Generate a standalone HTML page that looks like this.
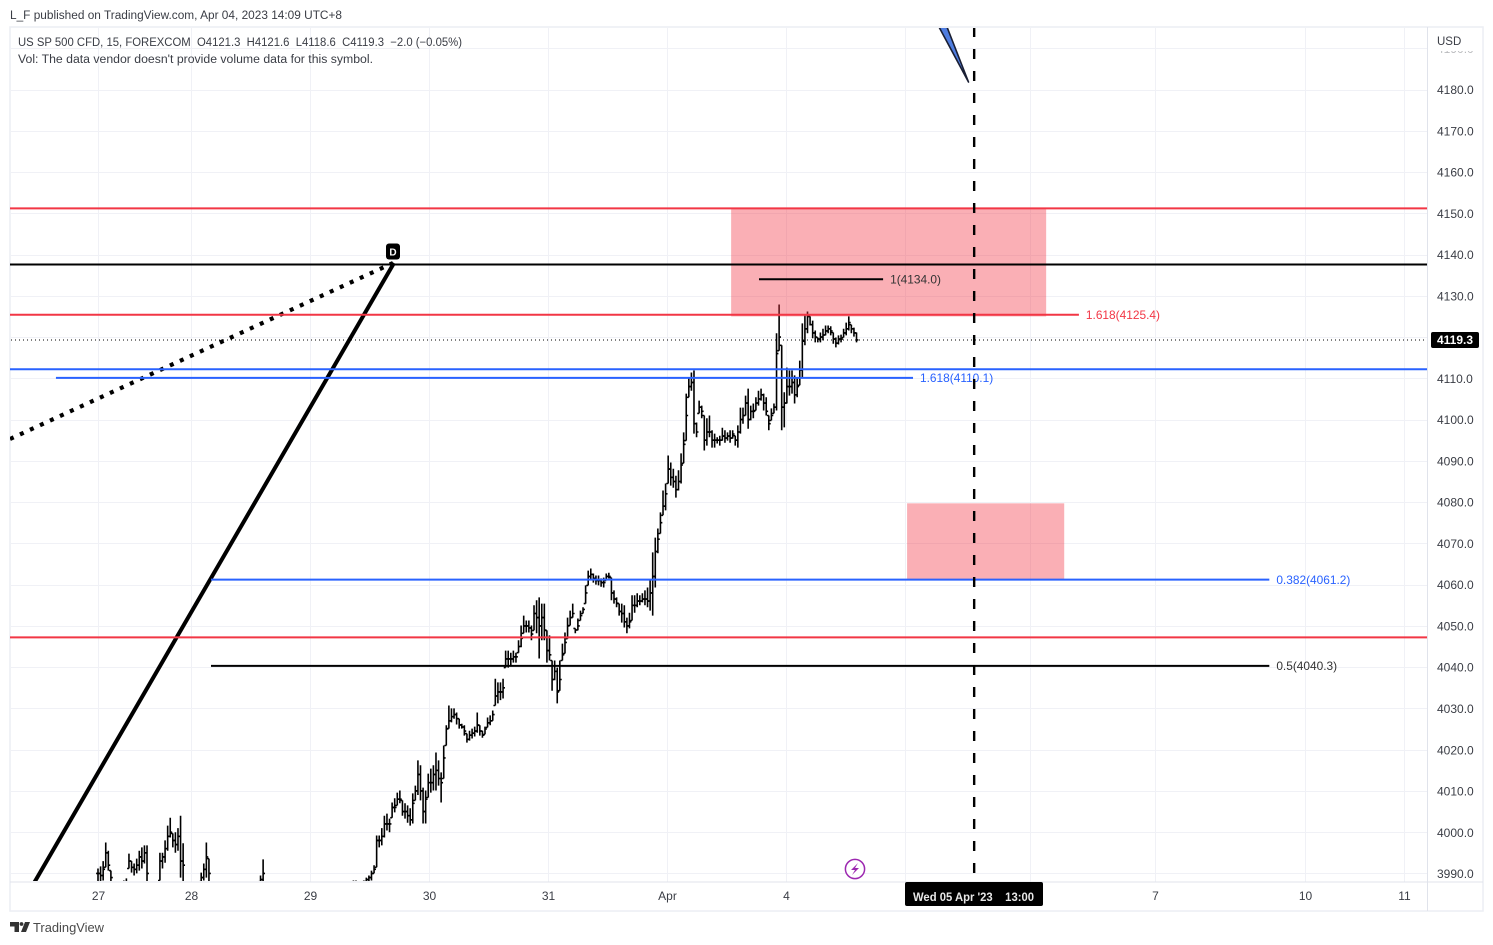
<!DOCTYPE html>
<html lang="en">
<head>
<meta charset="utf-8">
<title>US SP 500 CFD chart</title>
<style>
html,body{margin:0;padding:0;background:#fff;width:1493px;height:945px;overflow:hidden}
svg{display:block;font-family:"Liberation Sans",sans-serif}
</style>
</head>
<body>
<svg id="chart" width="1493" height="945" viewBox="0 0 1493 945" xmlns="http://www.w3.org/2000/svg">
  <defs>
    <clipPath id="pane-clip"><rect x="10" y="28" width="1417" height="853"/></clipPath>
    <clipPath id="top-tick-clip"><rect x="1430" y="51" width="50" height="10"/></clipPath>
  </defs>
  <text x="10" y="19" font-size="11.5" fill="#3a3d45" textLength="332" lengthAdjust="spacingAndGlyphs">L_F published on TradingView.com, Apr 04, 2023 14:09 UTC+8</text>
  <rect x="10" y="27" width="1473" height="884" fill="#fff" stroke="#eceef4" stroke-width="1.5"/>
  <g id="grid"></g>
  <g id="bars" clip-path="url(#pane-clip)"></g>
  <g id="drawings" clip-path="url(#pane-clip)">
    <polygon points="939,27 947,27 968.5,82" fill="#4f7de0" stroke="#1a1f33" stroke-width="1.6" stroke-linejoin="round"/>
    <line x1="10" y1="439" x2="393" y2="263" stroke="#000" stroke-width="4.2" stroke-dasharray="4 7"/>
    <line x1="34" y1="883" x2="394" y2="263" stroke="#000" stroke-width="4"/>
  </g>
  <rect x="386" y="243.5" width="14" height="16" rx="3" fill="#000"/>
  <text x="393" y="255.5" font-size="10" font-weight="bold" fill="#fff" text-anchor="middle">D</text>
  <text x="18" y="46" font-size="11.5" fill="#3a3d45" textLength="444" lengthAdjust="spacingAndGlyphs" xml:space="preserve">US SP 500 CFD, 15, FOREXCOM  O4121.3  H4121.6  L4118.6  C4119.3  −2.0 (−0.05%)</text>
  <text x="18" y="63" font-size="11.5" fill="#3a3d45" textLength="355" lengthAdjust="spacingAndGlyphs">Vol: The data vendor doesn't provide volume data for this symbol.</text>
  <line x1="1427.5" y1="27" x2="1427.5" y2="911" stroke="#e0e3eb" stroke-width="1"/>
  <line x1="10" y1="882" x2="1483" y2="882" stroke="#e0e3eb" stroke-width="1"/>
  <g id="price-axis"></g>
  <g id="time-axis"></g>
  <text x="1437" y="45" font-size="11.5" fill="#3a3d45">USD</text>
  <g>
    <circle cx="855" cy="869" r="9.6" fill="#fff" stroke="#9c27b0" stroke-width="1.5"/>
    <path d="M858 863 L851 870 L855 870 L852 875 L859 868 L855 868 Z" fill="#9c27b0"/>
  </g>
  <rect x="905" y="882" width="138" height="24" rx="2" fill="#000"/>
  <text x="913" y="901" font-size="12" font-weight="bold" fill="#e8e8e8" xml:space="preserve" textLength="121" lengthAdjust="spacingAndGlyphs">Wed 05 Apr '23    13:00</text>
  <g>
    <path d="M10 922 H19 V932 H14.5 V926.5 H10 Z" fill="#333"/>
    <circle cx="21.5" cy="924" r="1.9" fill="#333"/>
    <path d="M25 922 H30 L26 932 H21 Z" fill="#333"/>
  </g>
  <text x="33" y="932" font-size="12.5" fill="#4a4a4a" textLength="71" lengthAdjust="spacingAndGlyphs">TradingView</text>
</svg>
<script>
// ---- chart data ----
const priceTicks = [4190,4180,4170,4160,4150,4140,4130,4110,4100,4090,4080,4070,4060,4050,4040,4030,4020,4010,4000,3990];
const gridOnlyPrices = [4120];
const timeTickLabels = ["27","28","29","30","31","Apr","4","5","6","7","10","11"];
const timeTickBars = [0,36,82.2,128.3,174.4,220.5,266.6,312.8,361.2,409.6,467.8,506.2];
const hiddenTimeLabels = ["5","6"];
const lastPrice = 4119.3;
const zonePrices = [[4151,4125],[4079.7,4061.2]];
const zoneBars = [[245.4,367.5],[313.6,374.5]];
const levelNames = ["red-upper","black-d","red-fib-1618","blue-upper","blue-fib-1618","black-fib-1","blue-fib-0382","red-lower","black-fib-05"];
const levelPrices = [4151.2,4137.6,4125.4,4112.2,4110.1,4134.0,4061.2,4047.2,4040.3];
const levelStartBars = [-34.2,-34.2,-34.2,-34.2,-16.3,256.2,43.8,-34.2,43.8];
const levelEndBars = [515.4,515.4,380.2,515.4,315.9,304.3,454,515.4,454];
const levelColors = ["#f23645","#000000","#f23645","#2962ff","#2962ff","#000000","#2962ff","#f23645","#000000"];
const levelCaptions = ["","","1.618(4125.4)","","1.618(4110.1)","1(4134.0)","0.382(4061.2)","","0.5(4040.3)"];
const dashedMarkerBar = 339.6;

const barHighs = [
3991.2,3991.7,3993,3997.5,3995.5,3990.7,3986,3986,3986,3986,
3988.3,3988.8,3994.8,3993,3992.4,3993.6,3995.5,3996.3,3996.8,3996.8,
3986,3986,3986,3986,3995,3995,3998,4001.6,4003.5,3999.7,
4000,4001,4004,3997.3,3986,3986,3986,3986,3986,3986,
3990.2,3992.4,3997.5,3993.6,3986,3986,3986,3986,3986,3986,
3986,3986,3986,3986,3986,3986,3986,3986,3986,3986,
3986,3986,3986,3989.5,3993.4,3986,3986,3986,3986,3986,
3986,3986,3986,3986,3986,3986,3986,3986,3986,3986,
3986,3986,3986,3986,3986,3986,3986,3986,3986,3986,
3986,3986,3986,3986,3986,3986,3986,3986,3987.8,3988.3,
3988.3,3987.8,3987.8,3988.3,3989,3989.5,3990.7,3992,3999.2,3999.2,
4001,4004,4004.5,4003.3,4007.2,4008.2,4009.6,4010.1,4007.7,4007,
4006.5,4005.8,4009.4,4011.3,4017.4,4016.2,4010.8,4010.1,4014.2,4015.4,
4016.2,4019.3,4017.4,4014.5,4021,4025.9,4030.7,4030,4030,4029,
4027.5,4026.3,4025.9,4023.9,4024.6,4025.1,4025.6,4029,4025.9,4024.6,
4025.6,4027.8,4028.3,4029.5,4037.2,4036.3,4036.3,4037.2,4044,4044,
4043.5,4044,4043.5,4046.5,4050.1,4052.5,4051.3,4051.3,4050.1,4055,
4056.2,4056.9,4055.4,4055.4,4048.9,4047.7,4041.6,4041.6,4039.9,4041.6,
4045.7,4048.4,4052,4053.7,4055.4,4049.4,4051.8,4053.7,4054.5,4059.8,
4063.4,4063.9,4062.7,4062.2,4062.2,4061.5,4061.7,4062.7,4062.9,4061.7,
4058.6,4056.9,4055.4,4055.4,4055,4052,4053.2,4057.4,4057.4,4057.9,
4057.4,4057.9,4058.6,4059.3,4061,4067.8,4071.4,4073.6,4077.5,4082.8,
4084.5,4091.3,4089.6,4088.1,4086.4,4087.7,4091.8,4096.9,4106.3,4110.2,
4111.4,4111.9,4099.3,4104.6,4103.4,4101,4100.3,4101,4097.4,4096.6,
4095.7,4096.1,4098,4097.4,4096.9,4097.4,4097.4,4096.1,4098.6,4102.9,
4102.9,4105.8,4107.5,4103.4,4103.9,4105.4,4107,4107.5,4106.3,4105.4,
4101,4102.7,4103.9,4120.9,4127.9,4118,4106.6,4112.6,4111.9,4111.9,
4110.7,4110.2,4114.3,4123.3,4125.2,4126.2,4125,4124,4121.6,4119.9,
4121.1,4122,4122.8,4122.8,4122.6,4121.1,4119.9,4120.4,4120.6,4122,
4123.5,4125,4123,4122.3,4121.1
];
const barLows = [
3988,3988,3988.3,3991.5,3990.7,3988,3982,3982,3982,3982,
3986,3986.3,3991.2,3990.2,3989.5,3990,3990.7,3991.2,3992.4,3988,
3982,3982,3982,3982,3988.3,3991.2,3992.6,3995.5,3998.7,3996.3,
3995,3995.5,3989,3988,3982,3982,3982,3982,3982,3982,
3988,3988.3,3989,3988,3982,3982,3982,3982,3982,3982,
3982,3982,3982,3982,3982,3982,3982,3982,3982,3982,
3982,3982,3982,3988,3988,3982,3982,3982,3982,3982,
3982,3982,3982,3982,3982,3982,3982,3982,3982,3982,
3982,3982,3982,3982,3982,3982,3982,3982,3982,3982,
3982,3982,3982,3982,3982,3982,3982,3982,3987,3987,
3986.8,3986,3986.4,3986.8,3987.3,3987.8,3988.3,3990,3991.5,3996.3,
3996.8,3998.7,4000.4,4000,4003.5,4004.8,4006.5,4007,4004,4003.3,
4002.3,4001.6,4002.1,4007.7,4009,4007.7,4002.1,4002.1,4008.4,4009.6,
4010.1,4010.1,4011.3,4007.2,4013,4021,4025.1,4026.6,4027.5,4026.1,
4025.1,4025.1,4023.4,4021.7,4022.2,4022.7,4023.2,4024.1,4023.4,4022.9,
4023.7,4025.4,4025.9,4027,4030.7,4031.2,4032,4032.4,4039.9,4039.9,
4040.4,4041.1,4041.1,4043.5,4044.8,4048.2,4048.4,4048.4,4046.5,4048.9,
4048.2,4042.1,4046.5,4046.5,4041.1,4041.6,4034.3,4036.8,4031.2,4034.3,
4041.6,4043.3,4046.9,4050.1,4052,4048.2,4048.9,4051.3,4053,4055.4,
4059.8,4061,4060.5,4060,4059.8,4059.5,4059.3,4061,4061.5,4056.2,
4055.4,4054.5,4052.5,4050.8,4049.6,4048.2,4049.4,4051.3,4053.2,4054.5,
4055,4055.7,4055,4054.5,4053.7,4052.5,4059.3,4067.6,4072.4,4076.8,
4078,4084.5,4084,4083.5,4081.1,4082.8,4084.5,4089.4,4094.9,4105.4,
4107,4096.6,4095.7,4101.5,4100.3,4092.5,4093.7,4095.7,4093.2,4093.2,
4094.2,4093.7,4094.9,4094.4,4094.9,4094.4,4095.4,4093.7,4093.2,4096.6,
4099,4101,4097.8,4099.8,4100.3,4102.2,4103.4,4104.6,4102.2,4101,
4097.4,4099.8,4101.5,4102.2,4116.7,4097.4,4098.1,4103.9,4105.8,4106.3,
4103.9,4105.4,4108.3,4110.2,4118,4120.9,4122.8,4119.7,4118.7,4118.7,
4118.7,4119.2,4120.4,4120.9,4120.4,4118.4,4117.5,4118.2,4118.7,4119.9,
4120.4,4121.6,4120.9,4120.1,4118.7
];
const barCloses = [
3990,3989.5,3991,3995,3992,3989,3984,3984,3984,3984,
3987,3987.5,3993,3991.5,3991,3992,3994,3993,3995,3990,
3984,3984,3984,3984,3993,3994,3996,3999,4000,3998,
3997,3999,3993,3992,3984,3984,3984,3984,3984,3984,
3989,3991,3994,3990,3984,3984,3984,3984,3984,3984,
3984,3984,3984,3984,3984,3984,3984,3984,3984,3984,
3984,3984,3984,3988.5,3990,3984,3984,3984,3984,3984,
3984,3984,3984,3984,3984,3984,3984,3984,3984,3984,
3984,3984,3984,3984,3984,3984,3984,3984,3984,3984,
3984,3984,3984,3984,3984,3984,3984,3984,3987.5,3987.8,
3987.5,3987,3987,3988,3988.5,3989,3990,3991,3998,3998,
3999,4002,4002,4002,4006,4006,4008,4008,4005,4005,
4004,4003,4007,4010,4014,4010,4005,4008,4012,4012,
4014,4015,4013,4012,4018,4025,4027,4028,4028.5,4027.5,
4026,4025.5,4024.5,4022.5,4023.5,4024,4024.5,4026,4024.5,4023.5,
4025,4026.5,4027,4028.5,4033,4034,4034,4035,4042,4042,
4042,4042.5,4042.5,4045,4047,4050,4050,4049.5,4048,4053,
4052,4050,4052,4049,4044,4043,4037,4039,4034,4037,
4043,4046,4050,4052,4053,4049,4050,4052.5,4054,4058,
4062,4062.5,4061.5,4061,4061,4060.5,4060.5,4062,4062,4058,
4056.5,4055.5,4053.5,4053,4051,4050,4051,4055,4055,4056,
4056,4056.5,4056.5,4056,4058,4062,4068,4071,4075,4079,
4082,4088,4086,4085,4083,4085,4089,4094,4101,4108,
4109,4099,4097,4103,4102,4095,4097,4097,4095,4095,
4095,4095,4096,4095.5,4096,4095.5,4096.5,4095,4097,4100,
4101,4104,4100,4102,4102,4104,4105,4106,4104,4102,
4099,4101,4103,4116,4120,4103,4104,4108,4108,4109,
4106,4108,4112,4119,4122,4125,4123,4121,4120,4119.5,
4120,4120.5,4121.5,4122,4121.5,4119.5,4118.5,4119.5,4119.5,4121,
4122,4123.5,4122,4121,4119.3
];

// ---- axis functions ----
function xScale(bar){ return 98 + bar * 2.58; }
function yScale(price){ return 89.5 + (4180 - price) * 4.126; }

const NS = "http://www.w3.org/2000/svg";
function make(tag, parent, attrs){
  const el = document.createElementNS(NS, tag);
  for (const k in attrs) el.setAttribute(k, attrs[k]);
  parent.appendChild(el);
  return el;
}
const gridG = document.getElementById("grid");
const barsG = document.getElementById("bars");
const drawG = document.getElementById("drawings");
const priceG = document.getElementById("price-axis");
const timeG = document.getElementById("time-axis");

// grid and price labels
priceTicks.concat(gridOnlyPrices).forEach(function(p){
  const y = Math.round(yScale(p)) + 0.5;
  const gl = make("line", gridG, {x1:11, x2:1427, y1:y, y2:y, stroke:"#f0f1f6", "stroke-width":1});
  
  
});
priceTicks.forEach(function(p){
  const y = yScale(p);
  const t = make("text", priceG, {x:1437, y:y+4.6, "font-size":12, fill:"#3a3d45"});
  if (p === 4190) { t.setAttribute("clip-path","url(#top-tick-clip)"); t.setAttribute("opacity","0.35"); }
  
  
  t.textContent = p.toFixed(1);
});

// time grid and labels
timeTickBars.forEach(function(b, i){
  const x = Math.round(xScale(b)) + 0.5;
  const gl = make("line", gridG, {x1:x, x2:x, y1:28, y2:882, stroke:"#f0f1f6", "stroke-width":1});
  
  
  if (hiddenTimeLabels.indexOf(timeTickLabels[i]) >= 0) return;
  const t = make("text", timeG, {x:x, y:900, "font-size":12, fill:"#3a3d45", "text-anchor":"middle"});
  
  
  t.textContent = timeTickLabels[i];
});

// OHLC bars
barHighs.forEach(function(h, i){
  const l = barLows[i];
  const c = barCloses[i];
  const o = i > 0 ? barCloses[i-1] : c;
  const oc = Math.min(h, Math.max(l, o));
  const x = xScale(i);
  const d = "M" + x.toFixed(2) + " " + yScale(h).toFixed(1) + "V" + yScale(l).toFixed(1) +
            "M" + (x-1.9).toFixed(2) + " " + yScale(oc).toFixed(1) + "H" + x.toFixed(2) +
            "M" + x.toFixed(2) + " " + yScale(c).toFixed(1) + "H" + (x+1.9).toFixed(2);
  const bar = make("path", barsG, {d:d, fill:"none", stroke:"#000", "stroke-width":1.6});
  
  
});

// zones
zonePrices.forEach(function(z, i){
  const x0 = xScale(zoneBars[i][0]), x1 = xScale(zoneBars[i][1]);
  const y0 = yScale(z[0]), y1 = yScale(z[1]);
  const r = make("rect", drawG, {x:x0, y:y0, width:x1-x0, height:y1-y0, fill:"#f23645", "fill-opacity":0.4});
  
  
});

// last price dotted line
const lastLine = make("line", drawG, {x1:11, x2:1427, y1:yScale(lastPrice), y2:yScale(lastPrice), stroke:"#000", "stroke-width":1, "stroke-dasharray":"1 3"});



// horizontal levels
levelPrices.forEach(function(p, i){
  const y = yScale(p);
  const ln = make("line", drawG, {x1:xScale(levelStartBars[i]), x2:xScale(levelEndBars[i]), y1:y, y2:y, stroke:levelColors[i], "stroke-width":2});
  
  
  if (levelCaptions[i]) {
    const t = make("text", drawG, {x:xScale(levelEndBars[i]) + 7, y:y+4.2, "font-size":11.9, fill:levelColors[i] === "#000000" ? "#333" : levelColors[i]});
    
    
    t.textContent = levelCaptions[i];
  }
});

// dashed vertical marker
const dash = make("line", drawG, {x1:xScale(dashedMarkerBar), x2:xScale(dashedMarkerBar), y1:27, y2:881, stroke:"#000", "stroke-width":2.4, "stroke-dasharray":"10 12"});



// last price tag
const tagY = yScale(lastPrice);
const tag = make("rect", priceG, {x:1431, y:tagY-8, width:48, height:16, rx:2, fill:"#000"});


const tagText = make("text", priceG, {x:1437, y:tagY+4.3, "font-size":12, "font-weight":"bold", fill:"#fff"});


tagText.textContent = lastPrice.toFixed(1);
</script>
</body>
</html>
